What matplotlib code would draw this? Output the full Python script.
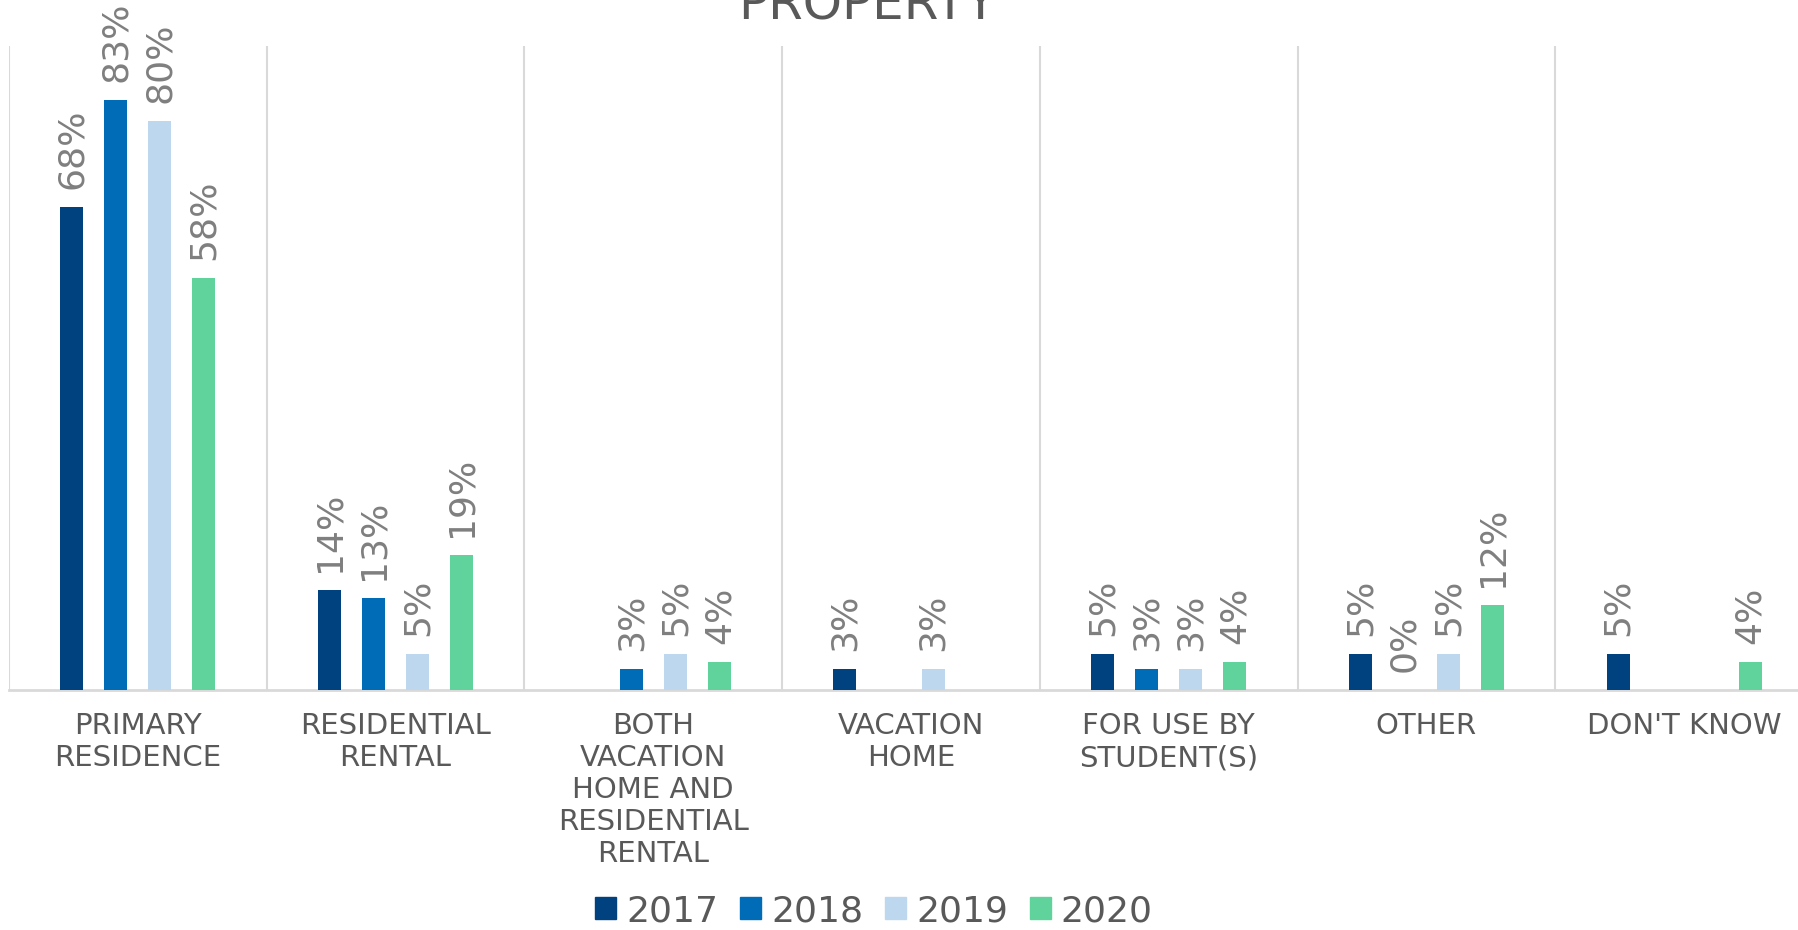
import matplotlib
matplotlib.use('Agg')
import matplotlib.pyplot as plt
from matplotlib.patches import Patch
import numpy as np

categories = ['PRIMARY\nRESIDENCE', 'RESIDENTIAL\nRENTAL',
              'BOTH\nVACATION\nHOME AND\nRESIDENTIAL\nRENTAL',
              'VACATION\nHOME', 'FOR USE BY\nSTUDENT(S)', 'OTHER', "DON'T KNOW"]
years = ['2017', '2018', '2019', '2020']
nan = np.nan
v2017 = [68, 14, nan, 3, 5, 5, 5]
v2018 = [83, 13, 3, nan, 3, 0, nan]
v2019 = [80, 5, 5, 3, 3, 5, nan]
v2020 = [58, 19, 4, nan, 4, 12, 4]
series = [v2017, v2018, v2019, v2020]
colors = ['#00427F', '#006BB6', '#BDD7EE', '#60D29C']

plt.rcParams['font.family'] = ['DejaVu Sans']

fig = plt.figure(figsize=(17.98, 9.30), dpi=100)
# axes runs a little past the right edge, like the cropped original
ax = fig.add_axes([9 / 1798, 1 - 690 / 930, 1804 / 1798, 644 / 930])

x = np.arange(len(categories))
step = 0.171
width = 0.089
for i, (vals, col) in enumerate(zip(series, colors)):
    offs = (i - 1.5) * step
    bars = ax.bar(x + offs, vals, width, color=col, zorder=3)
    labels = ['' if np.isnan(v) else '%d%%' % v for v in vals]
    ax.bar_label(bars, labels=labels, rotation=90, padding=13,
                 fontsize=26, color='#7F7F7F')

ax.set_xlim(-0.5, len(categories) - 0.5)
ax.set_ylim(0, 90.6)
ax.set_yticks([])
ax.set_xticks(x)
ax.set_xticklabels(categories, fontsize=21, color='#595959', linespacing=1.18)
ax.tick_params(axis='x', which='major', length=0, pad=16)
ax.set_xticks(np.arange(len(categories) + 1) - 0.5, minor=True)
ax.tick_params(axis='x', which='minor', length=0)
ax.grid(axis='x', which='minor', color='#D9D9D9', linewidth=1.5)

for s in ['top', 'left', 'right']:
    ax.spines[s].set_visible(False)
ax.spines['bottom'].set_color('#D9D9D9')
ax.spines['bottom'].set_linewidth(2)

fig.text(867 / 1798, 1 - 20 / 930, 'PROPERTY', ha='center', va='baseline',
         fontsize=36, color='#595959')

handles = [Patch(color=c, label=y) for c, y in zip(colors, years)]
fig.legend(handles=handles, loc='center', bbox_to_anchor=(874 / 1798, 1 - 911 / 930),
           ncol=4, frameon=False, fontsize=26, handlelength=0.58,
           handleheight=0.58, handletextpad=0.28, columnspacing=0.6,
           labelcolor='#595959', borderaxespad=0, borderpad=0)

fig.savefig('out.png', dpi=100)
